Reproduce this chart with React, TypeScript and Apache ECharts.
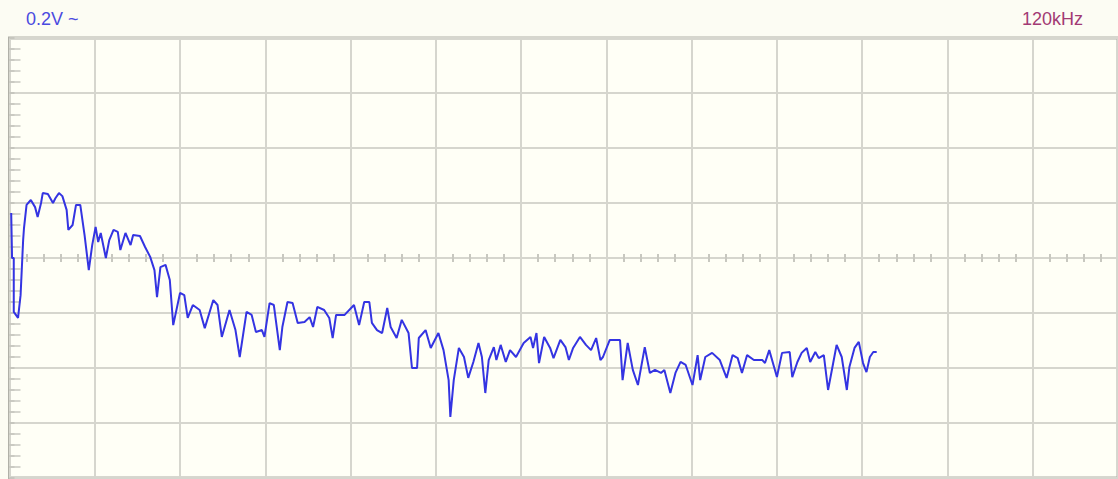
import React, { useEffect, useRef } from "react";
import * as echarts from "echarts";

// Frequency (kHz, 10 kHz per division) and amplitude (V, 0.2 V per division)
const freqKHz = [
  0.2, 0.3, 0.5, 0.5, 1.0, 1.3, 1.6, 1.7, 2.0, 2.5, 3.0, 3.3, 3.7, 3.9, 4.5, 5.1, 5.4, 5.8, 6.2, 6.7,
  6.9, 7.4, 7.8, 8.3, 8.8, 9.3, 9.7, 10.1, 10.4, 10.7, 11.3, 11.7, 12.2, 12.7, 13.0, 13.6, 14.2, 14.5, 15.3, 15.9,
  16.5, 17.0, 17.3, 17.7, 18.3, 18.8, 19.2, 20.0, 20.5, 20.9, 21.5, 22.3, 22.9, 23.9, 24.4, 24.9, 25.8, 26.5, 27.0, 27.8,
  28.4, 28.9, 29.6, 29.9, 30.5, 31.0, 31.7, 32.0, 32.6, 33.2, 33.8, 34.6, 35.2, 35.6, 36.1, 36.9, 37.5, 37.9, 38.3, 39.3,
  40.4, 41.0, 41.6, 42.2, 42.5, 43.1, 43.7, 44.3, 44.7, 45.4, 46.0, 46.8, 47.2, 47.8, 48.0, 48.8, 49.4, 50.3, 50.9, 51.5,
  51.7, 52.1, 52.7, 53.3, 53.8, 54.4, 55.0, 55.4, 55.8, 56.2, 56.8, 57.1, 57.6, 58.2, 58.7, 59.4, 60.3, 61.1, 61.4, 61.8,
  62.1, 62.7, 63.4, 63.8, 64.6, 65.2, 65.6, 66.1, 66.9, 67.6, 68.2, 68.8, 69.3, 69.6, 70.4, 71.6, 71.9, 72.5, 73.1, 73.7,
  74.5, 75.1, 75.7, 76.4, 76.8, 77.5, 78.1, 78.7, 79.3, 80.1, 80.7, 81.0, 81.6, 82.4, 83.3, 84.1, 84.8, 85.4, 85.9, 86.5,
  87.3, 88.3, 88.6, 89.1, 89.7, 90.0, 90.6, 91.5, 91.8, 92.4, 92.9, 93.5, 93.9, 94.5, 94.9, 95.5, 96.0, 96.6, 97.0, 97.6,
  98.2, 98.5, 99.1, 99.6, 100.1, 100.5, 100.9, 101.3, 101.7,
];

const volts = [
  0.164, 0, 0, -0.196, -0.218, -0.135, 0.065, 0.109, 0.193, 0.211, 0.185, 0.149, 0.2, 0.236, 0.233, 0.2, 0.218, 0.236, 0.225, 0.175,
  0.102, 0.12, 0.193, 0.193, 0.084, -0.044, 0.047, 0.113, 0.058, 0.091, 0, 0.065, 0.102, 0.095, 0.029, 0.091, 0.047, 0.084, 0.08, 0.04,
  0.004, -0.044, -0.142, -0.033, -0.025, -0.08, -0.244, -0.127, -0.135, -0.218, -0.171, -0.189, -0.255, -0.153, -0.171, -0.287, -0.189, -0.262, -0.36, -0.196,
  -0.207, -0.269, -0.262, -0.287, -0.164, -0.171, -0.335, -0.251, -0.16, -0.164, -0.236, -0.233, -0.215, -0.251, -0.178, -0.189, -0.218, -0.291, -0.207, -0.207,
  -0.171, -0.244, -0.16, -0.16, -0.236, -0.262, -0.273, -0.182, -0.251, -0.291, -0.225, -0.273, -0.4, -0.4, -0.291, -0.262, -0.327, -0.273, -0.335, -0.444,
  -0.578, -0.444, -0.327, -0.36, -0.436, -0.378, -0.309, -0.36, -0.491, -0.371, -0.324, -0.371, -0.316, -0.378, -0.335, -0.36, -0.309, -0.287, -0.327, -0.273,
  -0.382, -0.287, -0.327, -0.364, -0.298, -0.324, -0.371, -0.327, -0.287, -0.316, -0.335, -0.291, -0.371, -0.36, -0.298, -0.298, -0.444, -0.309, -0.407, -0.462,
  -0.324, -0.418, -0.407, -0.418, -0.407, -0.491, -0.418, -0.378, -0.389, -0.462, -0.353, -0.444, -0.36, -0.345, -0.371, -0.436, -0.353, -0.364, -0.418, -0.353,
  -0.371, -0.371, -0.382, -0.335, -0.4, -0.433, -0.345, -0.342, -0.433, -0.378, -0.345, -0.327, -0.378, -0.342, -0.364, -0.353, -0.48, -0.382, -0.316, -0.36,
  -0.48, -0.396, -0.327, -0.305, -0.382, -0.415, -0.36, -0.342, -0.342,
];

const voltsLabel = "0.2V ~";
const spanLabel = "120kHz";

export default function App() {
  const ref = useRef<HTMLDivElement>(null);

  useEffect(() => {
    if (!ref.current) return;
    const chart = echarts.init(ref.current, undefined, { renderer: "svg" });
    const gridColor = "#d6d6ce";
    const data = freqKHz.map((f, i) => [f, volts[i]]);
    chart.setOption({
      animation: false,
      backgroundColor: "#fcfcf3",
      grid: {
        left: 9.5,
        top: 38,
        width: 1114,
        height: 440,
        show: true,
        backgroundColor: "#fffff6",
        borderColor: "#b0b0a8",
        borderWidth: 3,
      },
      graphic: [
        {
          type: "text",
          left: 26,
          top: 10,
          style: { text: voltsLabel, fill: "#4a4ae0", font: '18px "Liberation Sans"' },
        },
        {
          type: "text",
          left: 1022,
          top: 10,
          style: { text: spanLabel, fill: "#a23a74", font: '18px "Liberation Sans"' },
        },
      ],
      xAxis: [
        {
          type: "value",
          min: 0,
          max: 130,
          interval: 10,
          axisLine: { show: true, onZero: true, lineStyle: { color: gridColor, width: 2 } },
          axisTick: { show: false },
          minorTick: { show: true, splitNumber: 5, length: 4, lineStyle: { color: "#c8c8c0", width: 2 } },
          axisLabel: { show: false },
          splitLine: { show: true, lineStyle: { color: gridColor, width: 2 } },
          minorSplitLine: { show: false },
        },
        {
          type: "value",
          position: "top",
          min: 0,
          max: 130,
          interval: 10,
          axisLine: { show: false, onZero: true },
          axisTick: { show: false },
          minorTick: { show: true, splitNumber: 5, length: 4, lineStyle: { color: "#c8c8c0", width: 2 } },
          axisLabel: { show: false },
          splitLine: { show: false },
        },
      ],
      yAxis: [
        {
          type: "value",
          min: -0.8,
          max: 0.8,
          interval: 0.2,
          axisLine: { show: false },
          axisTick: { show: true, inside: true, length: 5, lineStyle: { color: "#c0c0b8", width: 1.5 } },
          minorTick: { show: true, splitNumber: 5, length: 5, lineStyle: { color: "#c0c0b8", width: 1.5 } },
          axisLabel: { show: false },
          splitLine: { show: true, lineStyle: { color: gridColor, width: 2 } },
        },
        {
          type: "value",
          position: "right",
          min: -0.8,
          max: 0.8,
          interval: 0.2,
          axisLine: { show: false },
          axisTick: { show: false },
          minorTick: { show: true, splitNumber: 5, length: 11, lineStyle: { color: "#c8c8c0", width: 1.5 } },
          axisLabel: { show: false },
          splitLine: { show: false },
        },
      ],
      series: [
        {
          type: "line",
          xAxisIndex: 0,
          yAxisIndex: 0,
          data,
          showSymbol: false,
          symbol: "none",
          lineStyle: { color: "#3434e2", width: 2 },
          silent: true,
        },
      ],
    });
    return () => chart.dispose();
  }, []);

  return (
    <div
      ref={ref}
      style={{ position: "absolute", left: 0, top: 0, width: 1118, height: 479 }}
    />
  );
}
